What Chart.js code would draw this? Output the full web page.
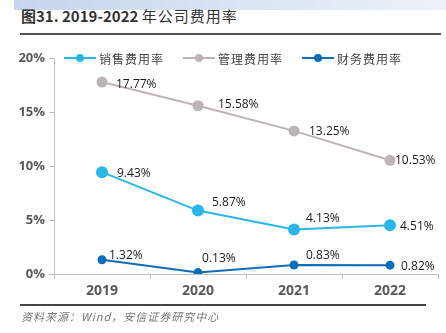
<!DOCTYPE html>
<html>
<head>
<meta charset="utf-8">
<script src="https://cdn.jsdelivr.net/npm/chart.js@4/dist/chart.umd.min.js"></script>
<style>
  html, body { margin: 0; padding: 0; background: #fff; }
  #wrap { position: relative; width: 446px; height: 333px; overflow: hidden; }
  #topband { position: absolute; left: 14px; top: 0; width: 432px; height: 10px;
    background: linear-gradient(to right, #c3d6ee, #dce7f4 60%, #eef2f8); }
  #title { position: absolute; left: 21px; top: 5px; font-family: "Noto Sans CJK SC", "Noto Sans", sans-serif;
    font-size: 15px; font-weight: bold; color: #333; white-space: nowrap; }
  #title .cn { font-weight: normal; letter-spacing: 1px; }
  #titleline { position: absolute; left: 20px; top: 33px; width: 421px; height: 2px; background: #555; }
  #srcline { position: absolute; left: 20px; top: 304px; width: 406px; height: 2px; background: #444; }
  #source { position: absolute; left: 21px; top: 308px; font-family: "Noto Sans CJK SC", sans-serif;
    font-size: 11px; font-style: italic; color: #777; white-space: nowrap; letter-spacing: 1px; }
  #c { position: absolute; left: 0; top: 0; }
</style>
</head>
<body>
<div id="wrap">
  <div id="topband"></div>
  <div id="title">图31. 2019-2022 <span class="cn">年公司费用率</span></div>
  <div id="titleline"></div>
  <canvas id="c" width="446" height="333"></canvas>
  <div id="srcline"></div>
  <div id="source">资料来源：Wind，安信证券研究中心</div>
</div>
<script>
var years = ['2019', '2020', '2021', '2022'];
var xiaoShou = [9.43, 5.87, 4.13, 4.51];   // 销售费用率
var guanLi = [17.77, 15.58, 13.25, 10.53]; // 管理费用率
var caiWu = [1.32, 0.13, 0.83, 0.82];      // 财务费用率
var seriesNames = ['销售费用率', '管理费用率', '财务费用率'];
var yTicks = [0, 5, 10, 15, 20];

var colors = ['#2bb6e8', '#bdb4b4', '#0d6db6'];

// label offsets (dx, dy) from the point, per dataset
var labelOffsets = [
    [[15, 1], [14, -8], [12, -11], [10, 1]],
    [[14, 2], [20, -1], [15, 1], [5, 0]],
    [[7, -4], [4, -14], [12, -9], [11, 1]]
];

var labelPlugin = {
    id: 'labels',
    afterDatasetsDraw: function (chart) {
        var ctx = chart.ctx;
        ctx.save();
        ctx.font = '12px "Open Sans", "Noto Sans", sans-serif';
        ctx.fillStyle = '#1a1a1a';
        ctx.textAlign = 'left';
        ctx.textBaseline = 'middle';
        chart.data.datasets.forEach(function (ds, i) {
            var meta = chart.getDatasetMeta(i);
            meta.data.forEach(function (pt, j) {
                var off = labelOffsets[i][j];
                ctx.fillText(ds.data[j].toFixed(2) + '%', pt.x + off[0], pt.y + off[1]);
            });
        });
        ctx.restore();
    }
};

var legendPlugin = {
    id: 'myLegend',
    afterDraw: function (chart) {
        var ctx = chart.ctx;
        var startX = [64, 183, 302];
        var y = 58;
        ctx.save();
        ctx.font = '12px "Noto Sans CJK SC", sans-serif';
        ctx.textBaseline = 'middle';
        ctx.textAlign = 'left';
        seriesNames.forEach(function (name, i) {
            var x = startX[i];
            ctx.strokeStyle = colors[i];
            ctx.lineWidth = 2;
            ctx.beginPath();
            ctx.moveTo(x, y);
            ctx.lineTo(x + 32, y);
            ctx.stroke();
            ctx.fillStyle = colors[i];
            ctx.beginPath();
            ctx.arc(x + 16, y, 4, 0, Math.PI * 2);
            ctx.fill();
            ctx.fillStyle = '#444';
            var tx = x + 35;
            for (var k = 0; k < name.length; k++) {
                ctx.fillText(name[k], tx, y + 1);
                tx += 13;
            }
        });
        ctx.restore();
    }
};

function makeSet(label, data, color, r) {
    return {
        label: label,
        data: data,
        borderColor: color,
        backgroundColor: color,
        borderWidth: 2,
        pointRadius: r,
        pointHoverRadius: r,
        pointBorderWidth: 0,
        tension: 0
    };
}

new Chart(document.getElementById('c'), {
    type: 'line',
    data: {
        labels: years,
        datasets: [
            makeSet(seriesNames[0], xiaoShou, colors[0], 6),
            makeSet(seriesNames[1], guanLi, colors[1], 5.5),
            makeSet(seriesNames[2], caiWu, colors[2], 4.5)
        ]
    },
    options: {
        responsive: false,
        animation: false,
        layout: { padding: { top: 58, right: 8, bottom: 29, left: 0 } },
        plugins: { legend: { display: false }, tooltip: { enabled: false } },
        scales: {
            x: {
                offset: true,
                grid: { display: true, drawOnChartArea: false, offset: true, color: '#bfbfbf', tickLength: 5 },
                border: { color: '#bfbfbf', width: 1 },
                ticks: { color: '#595959', font: { size: 14, weight: 'bold', family: '"Open Sans", "Noto Sans", sans-serif' }, padding: 4 },
                afterFit: function (s) { s.height = 30; }
            },
            y: {
                min: 0,
                max: 20,
                afterBuildTicks: function (s) { s.ticks = yTicks.map(function (v) { return { value: v }; }); },
                grid: { display: true, drawOnChartArea: false, color: '#bfbfbf', tickLength: 5 },
                border: { color: '#bfbfbf', width: 1 },
                ticks: {
                    color: '#595959',
                    font: { size: 13, weight: 'bold', family: '"Open Sans", "Noto Sans", sans-serif' },
                    padding: 4,
                    callback: function (v) { return v + '%'; }
                },
                afterFit: function (s) { s.width = 54; }
            }
        }
    },
    plugins: [labelPlugin, legendPlugin]
});
</script>
</body>
</html>
